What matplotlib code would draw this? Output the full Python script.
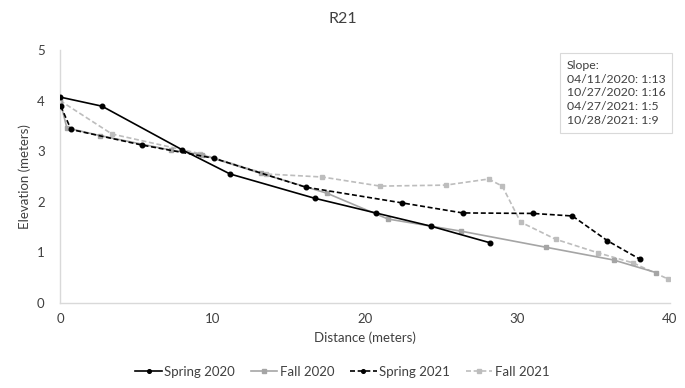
import matplotlib
matplotlib.use("Agg")
import matplotlib.pyplot as plt

plt.rcParams['font.family'] = ['Lato', 'DejaVu Sans']

spring2020_x = [0.0, 2.75, 8.0, 11.15, 16.7, 20.7, 24.3, 28.2]
spring2020_y = [4.07, 3.89, 3.03, 2.55, 2.07, 1.78, 1.52, 1.19]

fall2020_x = [0.0, 0.45, 2.6, 7.3, 9.3, 13.2, 17.5, 21.5, 24.3, 26.3, 31.9, 36.3, 39.1]
fall2020_y = [4.0, 3.46, 3.31, 3.02, 2.93, 2.56, 2.17, 1.66, 1.52, 1.42, 1.10, 0.85, 0.60]

spring2021_x = [0.05, 0.72, 5.4, 10.1, 16.1, 22.4, 26.4, 31.0, 33.6, 35.9, 38.0]
spring2021_y = [3.89, 3.43, 3.12, 2.86, 2.29, 1.98, 1.78, 1.77, 1.72, 1.23, 0.87]

fall2021_x = [0.0, 3.4, 9.2, 13.5, 17.2, 21.0, 25.3, 28.1, 29.0, 30.2, 32.5, 35.3, 37.6, 39.9]
fall2021_y = [4.0, 3.34, 2.95, 2.55, 2.49, 2.31, 2.33, 2.45, 2.31, 1.60, 1.26, 0.99, 0.79, 0.47]

series_names = ["Spring 2020", "Fall 2020", "Spring 2021", "Fall 2021"]
title = "R21"
xlabel = "Distance (meters)"
ylabel = "Elevation (meters)"
slope_text = "Slope:\n04/11/2020: 1:13\n10/27/2020: 1:16\n04/27/2021: 1:5\n10/28/2021: 1:9"
x_ticks = [0, 10, 20, 30, 40]
y_ticks = [0, 1, 2, 3, 4, 5]

fig = plt.figure(figsize=(6.85, 3.88), dpi=100)
ax = fig.add_axes([60/685, 1-303/388, 610/685, 253/388])

text_col = "#404040"
ax.plot(spring2020_x, spring2020_y, color="black", lw=1.2, ls="-", marker="o", ms=3.3,
        label=series_names[0], zorder=4)
ax.plot(fall2020_x, fall2020_y, color="#A5A5A5", lw=1.2, ls="-", marker="s", ms=3.2,
        label=series_names[1], zorder=2)
ax.plot(spring2021_x, spring2021_y, color="black", lw=1.2, ls=(0, (3, 1.6)), marker="o", ms=3.3,
        label=series_names[2], zorder=3)
ax.plot(fall2021_x, fall2021_y, color="#BDBDBD", lw=1.2, ls=(0, (3, 1.6)), marker="s", ms=3.2,
        label=series_names[3], zorder=1)

ax.set_xlim(0, 40)
ax.set_ylim(0, 5)
ax.set_xticks(x_ticks)
ax.set_yticks(y_ticks)
for s in ["top", "right"]:
    ax.spines[s].set_visible(False)
for s in ["left", "bottom"]:
    ax.spines[s].set_color("#D9D9D9")
    ax.spines[s].set_linewidth(1.0)
ax.tick_params(axis="x", length=0, labelsize=9.5, colors=text_col, pad=7)
ax.tick_params(axis="y", length=0, labelsize=9.5, colors=text_col, pad=11)
ax.set_xlabel(xlabel, fontsize=9.5, color=text_col, labelpad=5)
ax.set_ylabel(ylabel, fontsize=9.5, color=text_col, labelpad=4)

fig.text(0.5, 1-19/388, title, ha="center", va="center", fontsize=11.5, color=text_col)

fig.text(567/685, 1-60/388, slope_text, ha="left", va="top", fontsize=8.8, color=text_col,
         linespacing=1.3,
         bbox=dict(boxstyle="square,pad=0.55", fc="white", ec="#D9D9D9", lw=0.8))

leg = fig.legend(loc="center", bbox_to_anchor=(0.5, 1-372/388), ncol=4, frameon=False,
                 fontsize=9.5, handlelength=2.0, columnspacing=1.2, handletextpad=0.2,
                 markerscale=0.8)
for t in leg.get_texts():
    t.set_color(text_col)

fig.savefig("out.png", dpi=100)
